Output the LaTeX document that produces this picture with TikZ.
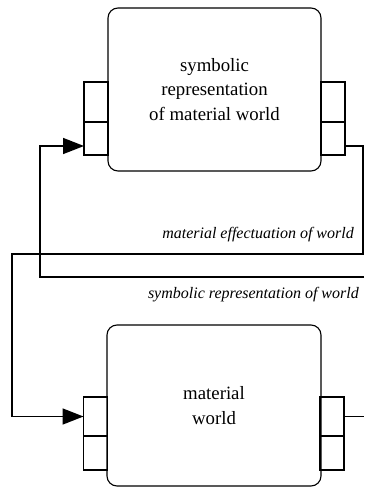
\documentclass[tikz,border=0pt]{standalone}
\usepackage{fontspec}
\setmainfont{Liberation Serif}
\usetikzlibrary{arrows.meta}
\begin{document}
\begin{tikzpicture}[x=1pt, y=-1pt,
    sysbox/.style={draw, line width=1.1pt, rounded corners=10pt, inner sep=0pt, outer sep=0pt, align=center,
        font=\fontsize{18.8}{24.5}\selectfont},
    port/.style={draw, line width=1.1pt, minimum width=24pt, inner sep=0pt, outer sep=0pt},
    conn/.style={line width=1.6pt},
    lbl/.style={font=\fontsize{16}{19}\selectfont\itshape, inner sep=0pt, anchor=east}]
    \useasboundingbox (0,0) rectangle (364,487);
    % 两个系统框
    \node[sysbox, minimum width=213pt, minimum height=163pt] (sym) at (214.5,89.5) {symbolic\\representation\\of material world};
    \node[sysbox, minimum width=214pt, minimum height=161pt] (mat) at (214,405.5) {material\\world};
    % 端口
    \node[port, minimum height=40pt] (symInA) at (96,102) {};
    \node[port, minimum height=33pt] (symInB) at (96,138.5) {};
    \node[port, minimum height=40pt] (symOutA) at (333,102) {};
    \node[port, minimum height=33pt] (symOutB) at (333,138.5) {};
    \node[port, minimum height=39pt] (matInA) at (95.5,416.5) {};
    \node[port, minimum height=34pt] (matInB) at (95.5,453) {};
    \node[port, minimum height=39pt] (matOutA) at (332,416.5) {};
    \node[port, minimum height=34pt] (matOutB) at (332,453) {};
    % 连线
    \coordinate (effR) at (363,254);
    \coordinate (effL) at (12,254);
    \coordinate (repR) at (364,277);
    \coordinate (repL) at (40,277);
    \coordinate (matExit) at (364,417);
    \draw[conn] ([yshift=-7.5pt]symOutB.east) -| (effR) -- (effL) |- (matInA.west)[-{Triangle[length=21pt,width=16pt]}]; % 物质化
    \draw[conn, -{Triangle[length=21pt,width=16pt]}] (repR) -- (repL) |- ([yshift=-7.5pt]symInB.west); % 符号表示
    \draw[conn] (matOutA.east) -- (matOutA.east -| matExit);
    \node[lbl] (effLbl) at (354,235) {material effectuation of world};
    \node[lbl] (repLbl) at (359,295) {symbolic representation of world};
\end{tikzpicture}
\end{document}
